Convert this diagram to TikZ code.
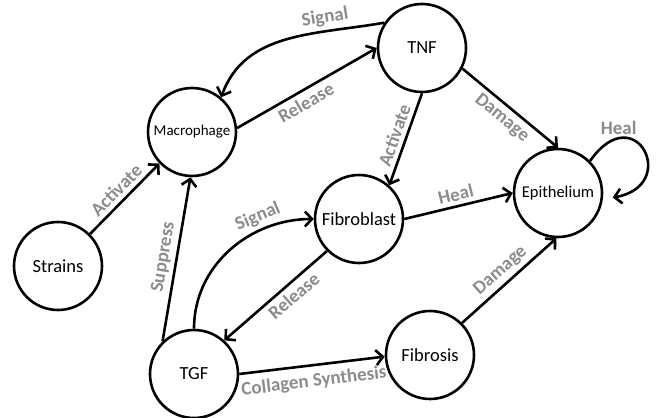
\documentclass[tikz,border=0pt]{standalone}
\usepackage{fontspec}
\setmainfont{Carlito}
\usetikzlibrary{arrows.meta, positioning}

\begin{document}
\begin{tikzpicture}[
  cell/.style={draw, circle, line width=2.6pt, minimum size=88pt, inner sep=0pt, font=\fontsize{18.5}{20}\selectfont},
  arr/.style={line width=2.6pt, -{Straight Barb[length=7pt, width=15pt]}},
  lbl/.style={font=\fontsize{19}{21}\selectfont\bfseries, text=black!45, sloped, inner sep=4pt},
  on grid
]
  \useasboundingbox (-58pt,-152pt) rectangle (599pt,266pt);
  \node[cell] (strains) {Strains};
  \node[cell, font=\fontsize{15}{17}\selectfont, above right=134pt and 134pt of strains] (mac) {Macrophage};
  \node[cell, above right=84pt and 230pt of mac] (tnf) {TNF};
  \node[cell, below left=171pt and 63pt of tnf] (fib) {Fibroblast};
  \node[cell, font=\fontsize{16.5}{18}\selectfont, above right=26pt and 199pt of fib] (epi) {Epithelium};
  \node[cell, below right=108pt and 136pt of strains] (tgf) {TGF};
  \node[cell, above right=19pt and 236pt of tgf] (fibrosis) {Fibrosis};

  \draw[arr] (strains.45) -- node[lbl, above] {Activate} (mac.224);
  \draw[arr] (mac.5) -- node[lbl, below, pos=0.45] {Release} (tnf.180);
  \draw[arr] (tnf.146) to[out=190, in=70] node[lbl, above, pos=0.28] {Signal} (mac.50);
  \draw[arr] (tnf.270) -- node[lbl, above] {Activate} (fib.48);
  \draw[arr] (tnf.-27) -- node[lbl, below] {Damage} (epi.90);
  \draw[arr] (fib.0) -- node[lbl, above] {Heal} (epi.180);
  \draw[arr, shorten >=10pt] (epi.45) to[out=55, in=10, looseness=5] node[lbl, above, pos=0.22, sloped=false, inner sep=2pt] {Heal} (epi.-8);
  \draw[arr] (tgf.134) -- node[lbl, above] {Suppress} (mac.268);
  \draw[arr] (tgf.90) to[out=90, in=180] node[lbl, above, pos=0.72] {Signal} (fib.180);
  \draw[arr] (fib.225) -- node[lbl, below, pos=0.4] {Release} (tgf.48);
  \draw[arr] (tgf.0) -- node[lbl, below, inner sep=7pt] {Collagen Synthesis} (fibrosis.182);
  \draw[arr] (fibrosis.45) -- node[lbl, above] {Damage} (epi.268);
\end{tikzpicture}
\end{document}
